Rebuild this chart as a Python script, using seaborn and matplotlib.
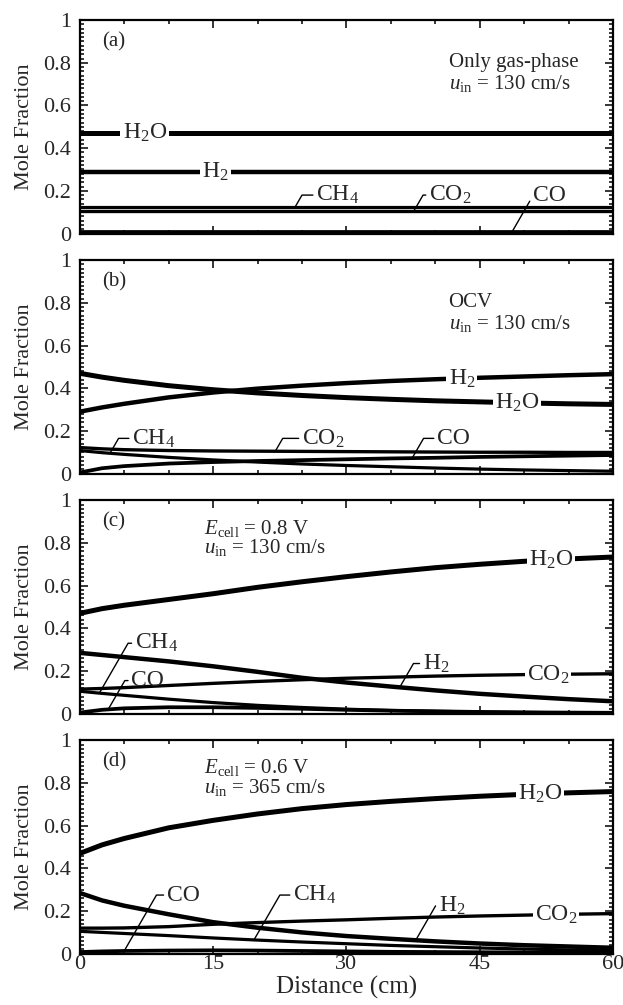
import numpy as np
import pandas as pd
import seaborn as sns
import matplotlib.pyplot as plt
from matplotlib.ticker import MultipleLocator

sns.set_style("ticks")
plt.rcParams["font.family"] = ["Liberation Serif", "DejaVu Serif"]
plt.rcParams["mathtext.fontset"] = "custom"
plt.rcParams["mathtext.rm"] = "Liberation Serif"
plt.rcParams["mathtext.it"] = "Liberation Serif:italic"

# distance along the channel (cm)
dist_a = [0, 60]
dist = [0, 2.5, 5, 10, 15, 20, 25, 30, 35, 40, 45, 50, 55, 60]

# (a) only gas-phase
a_h2o = [0.47, 0.47]
a_h2 = [0.29, 0.29]
a_ch4 = [0.122, 0.122]
a_co2 = [0.106, 0.106]
a_co = [0.005, 0.005]

# (b) OCV
b_h2o = [0.47, 0.452, 0.437, 0.412, 0.393, 0.378, 0.366, 0.356, 0.348, 0.341, 0.336, 0.331, 0.327, 0.324]
b_h2 = [0.29, 0.31, 0.327, 0.357, 0.38, 0.398, 0.412, 0.424, 0.434, 0.442, 0.449, 0.455, 0.461, 0.466]
b_co2 = [0.122, 0.116, 0.112, 0.108, 0.106, 0.105, 0.104, 0.103, 0.102, 0.101, 0.100, 0.100, 0.099, 0.099]
b_ch4 = [0.108, 0.098, 0.09, 0.076, 0.064, 0.054, 0.045, 0.038, 0.032, 0.026, 0.021, 0.017, 0.014, 0.011]
b_co = [0.005, 0.025, 0.035, 0.047, 0.054, 0.059, 0.063, 0.067, 0.071, 0.074, 0.078, 0.081, 0.084, 0.087]

# (c) Ecell = 0.8 V
c_h2o = [0.47, 0.492, 0.508, 0.535, 0.562, 0.592, 0.618, 0.642, 0.664, 0.684, 0.700, 0.714, 0.725, 0.734]
c_h2 = [0.285, 0.275, 0.265, 0.245, 0.222, 0.196, 0.168, 0.146, 0.127, 0.109, 0.093, 0.08, 0.068, 0.058]
c_co2 = [0.115, 0.118, 0.122, 0.132, 0.142, 0.151, 0.159, 0.166, 0.171, 0.176, 0.180, 0.183, 0.185, 0.187]
c_ch4 = [0.105, 0.095, 0.086, 0.068, 0.052, 0.039, 0.029, 0.021, 0.015, 0.011, 0.008, 0.006, 0.004, 0.003]
c_co = [0.005, 0.018, 0.025, 0.03, 0.03, 0.027, 0.023, 0.018, 0.014, 0.011, 0.008, 0.006, 0.005, 0.004]

# (d) Ecell = 0.6 V, 365 cm/s
d_h2o = [0.47, 0.51, 0.54, 0.59, 0.625, 0.655, 0.68, 0.699, 0.714, 0.727, 0.738, 0.747, 0.754, 0.76]
d_h2 = [0.285, 0.25, 0.225, 0.185, 0.148, 0.122, 0.1, 0.083, 0.07, 0.058, 0.048, 0.04, 0.034, 0.028]
d_co2 = [0.12, 0.12, 0.121, 0.127, 0.138, 0.146, 0.153, 0.159, 0.166, 0.172, 0.177, 0.181, 0.185, 0.188]
d_ch4 = [0.105, 0.1, 0.095, 0.085, 0.074, 0.064, 0.055, 0.047, 0.039, 0.033, 0.027, 0.022, 0.018, 0.015]
d_co = [0.008, 0.011, 0.013, 0.015, 0.016, 0.015, 0.013, 0.011, 0.009, 0.008, 0.007, 0.006, 0.005, 0.004]

H2O, H2, CH4, CO2, CO = "H$_2$O", "H$_2$", "CH$_4$", "CO$_2$", "CO"

panels = [
    ("(a)", dist_a, {H2O: a_h2o, H2: a_h2, CH4: a_ch4, CO2: a_co2, CO: a_co}),
    ("(b)", dist, {H2O: b_h2o, H2: b_h2, CH4: b_ch4, CO2: b_co2, CO: b_co}),
    ("(c)", dist, {H2O: c_h2o, H2: c_h2, CH4: c_ch4, CO2: c_co2, CO: c_co}),
    ("(d)", dist, {H2O: d_h2o, H2: d_h2, CH4: d_ch4, CO2: d_co2, CO: d_co}),
]

conditions = [
    ["Only gas-phase", r"$u_{\rm in}$ = 130 cm/s"],
    ["OCV", r"$u_{\rm in}$ = 130 cm/s"],
    [r"$E_{\rm cell}$ = 0.8 V", r"$u_{\rm in}$ = 130 cm/s"],
    [r"$E_{\rm cell}$ = 0.6 V", r"$u_{\rm in}$ = 365 cm/s"],
]
cond_pos = [(41.5, 0.80, 0.705), (41.5, 0.80, 0.705), (14, 0.87, 0.78), (14, 0.875, 0.78)]

# labels sitting on the line: (panel, species, x)
inline = [
    (0, H2O, 7.3), (0, H2, 15.3),
    (1, H2, 43.0), (1, H2O, 49.2),
    (2, H2O, 53.0), (2, CO2, 52.7),
    (3, H2O, 51.8), (3, CO2, 53.6),
]
# labels with a leader: (panel, species, x on curve, text x, text y)
leader = [
    (0, CH4, 24.2, 26.6, 0.18), (0, CO2, 37.6, 39.3, 0.18), (0, CO, 48.6, 51.0, 0.18),
    (1, CH4, 3.4, 5.9, 0.165), (1, CO2, 22.0, 25.0, 0.165), (1, CO, 37.4, 40.2, 0.165),
    (2, CH4, 2.2, 6.2, 0.33), (2, CO, 3.2, 5.8, 0.155), (2, H2, 36.0, 38.6, 0.235),
    (3, CO, 5.0, 9.8, 0.275), (3, CH4, 19.6, 24.0, 0.275), (3, H2, 37.8, 40.4, 0.225),
]

thick = {H2O: 3.6, H2: 3.2, CH4: 2.3, CO2: 2.4, CO: 2.7}

fig, axes = plt.subplots(4, 1, figsize=(6.23, 10.05), dpi=100, sharex=True)
fig.subplots_adjust(left=0.128, right=0.984, top=0.98, bottom=0.051, hspace=0.125)

for i, (ax, (tag, x, series)) in enumerate(zip(axes, panels)):
    df = pd.DataFrame(series)
    df["Distance"] = x
    long = df.melt(id_vars="Distance", var_name="species", value_name="frac")
    for sp in series:
        sns.lineplot(data=long[long.species == sp], x="Distance", y="frac",
                     color="k", lw=thick[sp], ax=ax, legend=False, zorder=2)

    ax.set_xlim(0, 60)
    ax.set_ylim(0, 1)
    ax.xaxis.set_major_locator(MultipleLocator(15))
    ax.xaxis.set_minor_locator(MultipleLocator(5))
    ax.yaxis.set_minor_locator(MultipleLocator(0.02))
    ax.set_yticks([0, 0.2, 0.4, 0.6, 0.8, 1.0])
    ax.set_yticklabels(["0", "0.2", "0.4", "0.6", "0.8", "1"])
    ax.tick_params(which="both", direction="in", top=True, right=True, labelsize=16,
                   width=1.1, color="k", pad=6)
    ax.tick_params(axis="x", which="both", pad=1)
    ax.tick_params(which="major", length=6)
    ax.tick_params(which="minor", length=3)
    for s in ax.spines.values():
        s.set_linewidth(1.6)
        s.set_color("k")
    ax.set_ylabel("Mole Fraction", fontsize=16, labelpad=7)
    ax.set_xlabel("")

    ax.text(2.5, 0.9, tag, fontsize=15, va="center", ha="left")
    cx, y1, y2 = cond_pos[i]
    ax.text(cx, y1, conditions[i][0], fontsize=15, va="center", ha="left")
    ax.text(cx, y2, conditions[i][1], fontsize=15, va="center", ha="left")

for p, sp, xl in inline:
    ax = axes[p]
    x = panels[p][1]
    yl = np.interp(xl, x, panels[p][2][sp])
    ax.text(xl, yl, sp, fontsize=17, ha="center", va="center", zorder=3,
            bbox=dict(fc="white", ec="none", pad=1.5))

for p, sp, xc, xt, yt in leader:
    ax = axes[p]
    x = panels[p][1]
    yc = np.interp(xc, x, panels[p][2][sp])
    ax.annotate(sp, xy=(xc, yc), xytext=(xt, yt), fontsize=17, ha="left", va="center",
                zorder=3,
                arrowprops=dict(arrowstyle="-", lw=1.0, color="k", shrinkA=0, shrinkB=0,
                                relpos=(0, 0.5),
                                connectionstyle="angle,angleA=0,angleB=60,rad=0"))

axes[-1].set_xticks([0, 15, 30, 45, 60])
axes[-1].set_xlabel("Distance (cm)", fontsize=18, labelpad=1)

fig.savefig("out.png", dpi=100)
